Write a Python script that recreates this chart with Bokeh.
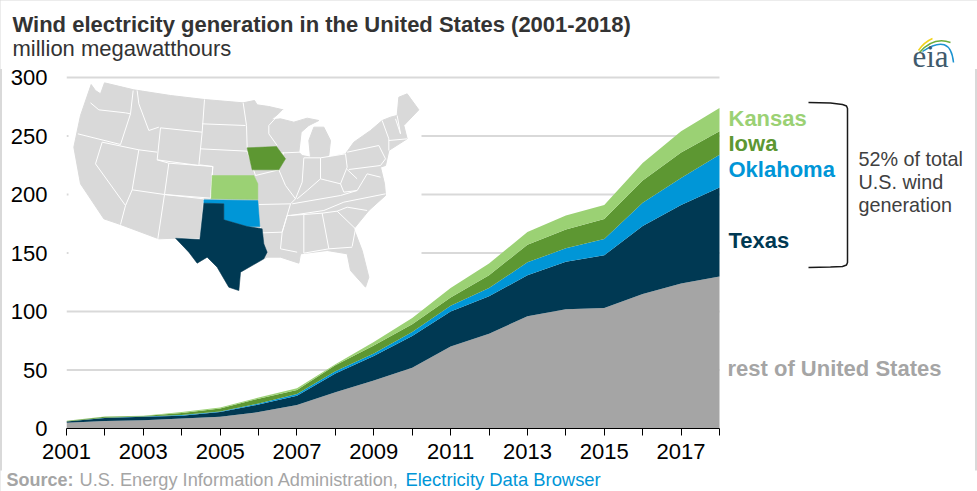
from bokeh.plotting import figure
from bokeh.layouts import column
from bokeh.models import Range1d, LinearAxis, FixedTicker, Label
from bokeh.embed import file_html
from bokeh.resources import INLINE
import numpy as np

years = list(range(2001, 2019))
rest = [5, 6.5, 7, 8.5, 10, 14, 20, 31, 41, 52, 70, 81, 96, 102, 103, 115, 124, 130]
texas = [0.9, 2.5, 3, 2.5, 4, 6.5, 8, 16, 21, 27, 30, 32, 35, 40.5, 45, 58, 67, 76]
oklahoma = [0.1, 0.2, 0.2, 0.5, 0.5, 0.8, 1.5, 2, 2, 3.5, 5, 7, 11, 11.5, 14, 20, 23, 28]
iowa = [0.5, 0.8, 0.5, 1.8, 2.5, 4.2, 3.5, 5, 7, 6.5, 7, 11, 15, 16, 17, 19, 22, 20]
kansas = [0.2, 0.3, 0.3, 0.7, 1, 1, 1.5, 1, 3, 5.5, 8, 10, 11, 12, 12, 15, 18, 20]
y_ticks = [0, 50, 100, 150, 200, 250, 300]

C_REST, C_TX, C_OK, C_IA, C_KS = "#a5a5a5", "#003953", "#0096d7", "#5d9732", "#9bd174"
FONT = "Liberation Sans"

land = [(92,42),(105,60),(120,70),(132,37),(220,58),(330,75),(432,87),(548,97),(582,90),(590,103),(625,108),(668,118),
        (632,148),(660,145),(700,155),(740,143),(775,150),(745,165),(722,185),(715,245),(725,255),(750,260),(745,210),
        (760,170),(790,170),(810,210),(805,255),(795,262),(855,250),(880,215),(930,180),(965,150),(990,140),(1010,135),
        (1015,80),(1040,70),(1075,118),(1030,165),(1040,205),(985,240),(975,285),(960,290),(972,340),(975,375),(925,420),
        (880,475),(905,540),(925,620),(915,650),(870,600),(860,550),(800,540),(720,550),(715,578),(660,560),(620,560),
        (610,565),(540,605),(535,660),(505,650),(470,590),(440,560),(410,578),(385,545),(345,503),(295,505),(180,462),
        (130,445),(60,340),(40,230),(60,135)]
borders = [
    [(52,190),(180,222)], [(90,97),(115,118),(195,127),(210,130)], [(218,60),(210,130),(180,222)],
    [(230,60),(235,100),(265,180),(295,170)], [(300,172),(425,185),(415,285),(290,268),(300,172)],
    [(432,87),(425,185)], [(425,160),(555,165)], [(548,97),(558,165),(560,232)], [(420,235),(560,242),(585,315)],
    [(417,283),(457,288),(455,315)], [(325,278),(457,288),(450,383),(312,372),(325,278)],
    [(235,238),(290,245)], [(290,268),(325,278)], [(312,372),(215,358),(235,238)], [(125,215),(235,238)],
    [(125,215),(105,280),(195,405),(215,358)], [(195,405),(180,462)], [(312,372),(292,505)],
    [(312,372),(430,385),(418,505),(345,503)], [(668,118),(625,165),(625,190),(650,225)],
    [(585,315),(655,298)], [(655,298),(675,345),(705,385),(690,400),(595,402)], [(690,400),(665,485),(605,487),(600,470)],
    [(665,485),(660,535),(710,545)], [(680,435),(665,485)], [(680,435),(730,432),(730,548)],
    [(730,432),(785,428),(805,535)], [(785,428),(830,422),(885,475),(875,528)], [(730,548),(805,535),(875,530)],
    [(830,422),(860,410),(920,420)], [(690,435),(790,420),(850,395),(975,370)], [(695,400),(840,375),(890,360)],
    [(650,248),(718,245)], [(670,245),(650,300)], [(730,262),(725,335),(705,385)], [(730,262),(780,262),(780,325),(740,360),(710,385)],
    [(780,262),(855,250),(860,290),(840,340),(800,330),(780,325)], [(840,340),(850,365),(890,360),(920,310),(960,320)],
    [(860,245),(955,225),(975,265),(960,285),(865,297)], [(860,297),(890,325)], [(965,150),(985,205),(985,240)],
    [(985,210),(1040,205)], [(1005,145),(1020,190)], [(1010,135),(1020,190)],
]
kansas_shape = [(455,315),(580,315),(592,340),(592,387),(452,385)]
iowa_shape = [(560,232),(648,228),(675,265),(655,298),(575,298)]
oklahoma_shape = [(430,388),(592,390),(598,468),(560,468),(490,448),(490,400),(430,398)]
texas_shape = [(430,398),(490,400),(490,448),(560,468),(605,475),(610,520),(620,545),(610,565),(540,605),(535,660),
               (505,650),(470,590),(440,560),(410,578),(385,545),(345,503),(418,507)]

def mx(pts): return [a / 3 + 60 for a, _ in pts]
def my(pts): return [b / 3 + 70 for _, b in pts]

H_TOP, H_FOOT = 69, 21
MAIN_Y0 = 30
H_MAIN = 491 - MAIN_Y0 - H_FOOT
px_per_year = (719 - 66) / 17
px_per_unit = (428 - 77) / 300
x_end = 2001 + (977 - 66) / px_per_year
y_end = (428 - MAIN_Y0) / px_per_unit

def blank(h, y0):
    f = figure(width=977, height=h, output_backend="svg", toolbar_location=None, frame_align=False,
               x_range=Range1d(0, 977), y_range=Range1d(y0 + h, y0), x_axis_location=None, y_axis_location=None,
               min_border=0, outline_line_color=None)
    f.grid.visible = False
    return f

def txt(f, s, x, y, size, color, bold=False, font=FONT, ranges={}):
    f.add_layout(Label(x=x, y=y - 0.38 * size, text=s, text_font=font, text_font_size=f"{size}px", text_color=color,
                       text_font_style="bold" if bold else "normal", text_baseline="alphabetic", **ranges))

head = blank(H_TOP, 0)
txt(head, "Wind electricity generation in the United States (2001-2018)", 12, 32, 22, "#333333", True)
txt(head, "million megawatthours", 12, 56, 22, "#333333")

foot = blank(H_FOOT, 491 - H_FOOT)
txt(foot, "Source:", 6, 486, 18, "#a5a5a5", True)
txt(foot, "U.S. Energy Information Administration,", 79, 486, 18.2, "#a5a5a5")
txt(foot, "Electricity Data Browser", 405, 486, 18.4, "#0096d7")

p = figure(width=977, height=H_MAIN, output_backend="svg", toolbar_location=None, frame_align=False,
           x_range=Range1d(2001, x_end), y_range=Range1d(0, y_end), margin=(MAIN_Y0 - H_TOP, 0, 0, 0),
           x_axis_location=None, y_axis_location=None, min_border_left=66, min_border_right=0,
           min_border_top=0, min_border_bottom=MAIN_Y0 + H_MAIN - 428, outline_line_color=None,
           background_fill_color=None, border_fill_color=None)
p.extra_x_ranges["px"] = Range1d(66, 977)
p.extra_y_ranges["px"] = Range1d(428, MAIN_Y0)

xa = LinearAxis(ticker=FixedTicker(ticks=years), bounds=(2001, 2018))
xa.major_label_overrides = {y: (str(y) if y % 2 else "") for y in years}
xa.major_label_text_font = FONT
xa.major_label_text_font_size = "22px"
xa.major_label_text_color = "#000000"
xa.axis_line_color = "#000000"
xa.major_tick_line_color = "#000000"
xa.major_tick_in = 0
xa.major_tick_out = 7
xa.minor_tick_line_color = None
xa.major_label_standoff = 8
p.add_layout(xa, "below")

ya = LinearAxis(ticker=FixedTicker(ticks=y_ticks), bounds=(0, 300))
ya.major_label_text_font = FONT
ya.major_label_text_font_size = "22px"
ya.major_label_text_color = "#000000"
ya.axis_line_color = None
ya.major_tick_line_color = None
ya.minor_tick_line_color = None
ya.major_label_standoff = 13
p.add_layout(ya, "left")

p.grid.visible = False
p.segment(x0=years[0], x1=years[-1], y0=y_ticks[1:], y1=y_ticks[1:], line_color="#d9d9d9", line_width=2)

stack = np.cumsum([rest, texas, oklahoma, iowa, kansas], axis=0)
lower = np.zeros(len(years))
for top, col in zip(stack, [C_REST, C_TX, C_OK, C_IA, C_KS]):
    p.varea(x=years, y1=lower, y2=top, fill_color=col)
    lower = top

R = dict(x_range_name="px", y_range_name="px")
p.quad(left=68, right=421, top=80, bottom=300, fill_color="white", line_color=None, **R)
p.patch(mx(land), my(land), fill_color="#d9d9d9", line_color="#d9d9d9", **R)
p.multi_line([mx(b) for b in borders], [my(b) for b in borders], line_color="white", line_width=1, **R)
for shape, col in [(kansas_shape, C_KS), (iowa_shape, C_IA), (oklahoma_shape, C_OK), (texas_shape, C_TX)]:
    p.patch(mx(shape), my(shape), fill_color=col, line_color=col, line_width=0.5, **R)

p.line([808, 830, 842, 846, 847, 847, 846, 842, 830, 808],
       [102, 102.5, 104, 105.5, 108, 262, 264.5, 266, 266.5, 267], line_color="#1a1a1a", line_width=1.5, **R)

p.quadratic(x0=[918], y0=[50], x1=[932], y1=[38], cx=[923], cy=[42], line_color="#f2d31c", line_width=1.5, **R)
p.quadratic(x0=[919], y0=[52], x1=[950], y1=[42], cx=[933], cy=[36], line_color="#6cad3c", line_width=1.5, **R)
p.quadratic(x0=[922], y0=[51], x1=[953], y1=[62], cx=[950], cy=[32], line_color="#1c93d1", line_width=1.5, **R)

txt(p, "eia", 912, 68, 31, "#3f5a6c", False, "Liberation Serif", ranges=R)
txt(p, "Kansas", 728, 126, 22, C_KS, True, ranges=R)
txt(p, "Iowa", 728, 151, 22, C_IA, True, ranges=R)
txt(p, "Oklahoma", 728, 177, 22, C_OK, True, ranges=R)
txt(p, "Texas", 728, 248, 22, C_TX, True, ranges=R)
txt(p, "rest of United States", 727, 376, 22, C_REST, True, ranges=R)
txt(p, "52% of total", 858, 166, 19.8, "#404040", ranges=R)
txt(p, "U.S. wind", 858, 189, 19.8, "#404040", ranges=R)
txt(p, "generation", 858, 212, 19.8, "#404040", ranges=R)

page = column(head, p, foot, spacing=0, styles={"outline": "2px solid #d9d9d9", "outline-offset": "-2px"})
open("out.html", "w").write(file_html(page, INLINE))
